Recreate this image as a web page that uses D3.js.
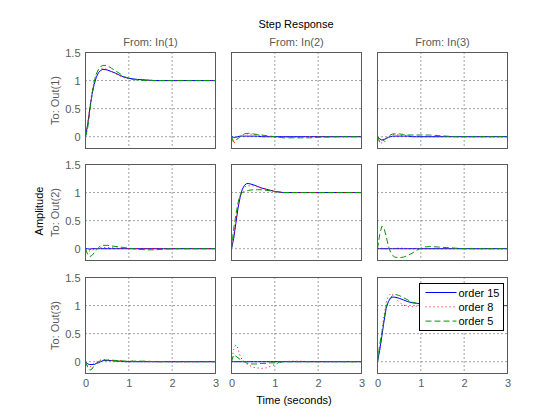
<!DOCTYPE html>
<html>
<head>
<meta charset="utf-8">
<script src="https://cdn.jsdelivr.net/npm/d3@7"></script>
<style>
  body { margin: 0; background: #fff; }
  text { font-family: "Liberation Sans", Arial, sans-serif; }
</style>
</head>
<body>
<svg id="chart" width="560" height="420"></svg>
<script>
// shared time axis (seconds)
var time = [0, 0.05, 0.1, 0.15, 0.2, 0.25, 0.3, 0.35, 0.4, 0.5, 0.6, 0.7, 0.8, 0.9, 1.0, 1.1, 1.2, 1.4, 1.6, 1.8, 2.0, 2.5, 3.0];

var inputs = ["From: In(1)", "From: In(2)", "From: In(3)"];
var outputs = ["To: Out(1)", "To: Out(2)", "To: Out(3)"];
var orders = ["order 15", "order 8", "order 5"];
var xTicks = [0, 1, 2, 3];
var yTicks = [0, 0.5, 1, 1.5];

// Out(1)
var o15_11 = [0, 0.22, 0.5, 0.75, 0.93, 1.06, 1.14, 1.18, 1.2, 1.19, 1.16, 1.13, 1.09, 1.06, 1.04, 1.03, 1.02, 1.01, 1.0, 1.0, 1.0, 1.0, 1.0];
var o8_11  = [0, 0.2, 0.52, 0.8, 1.0, 1.12, 1.19, 1.22, 1.22, 1.2, 1.16, 1.12, 1.08, 1.05, 1.03, 1.02, 1.02, 1.01, 1.0, 1.0, 1.0, 1.0, 1.0];
var o5_11  = [0, 0.15, 0.45, 0.75, 0.98, 1.12, 1.2, 1.25, 1.27, 1.27, 1.22, 1.17, 1.12, 1.07, 1.04, 1.02, 1.01, 1.0, 1.0, 1.0, 1.0, 1.0, 1.0];
var o15_12 = [0, -0.01, -0.01, 0, 0.01, 0.01, 0.01, 0.01, 0.01, 0.01, 0.01, 0, 0, 0, 0, 0, 0, 0, 0, 0, 0, 0, 0];
var o8_12  = [0, -0.12, -0.08, -0.02, 0.02, 0.03, 0.04, 0.05, 0.05, 0.04, 0.03, 0.02, 0.01, 0, -0.01, -0.01, -0.01, -0.01, -0.01, 0, 0, 0, 0];
var o5_12  = [0, -0.09, -0.06, -0.03, 0, 0.03, 0.05, 0.06, 0.06, 0.05, 0.04, 0.03, 0.02, 0.01, 0, -0.01, -0.02, -0.02, -0.02, -0.02, -0.01, 0, 0];
var o15_13 = [0, -0.04, -0.06, -0.05, -0.03, -0.01, 0, 0.01, 0.01, 0.01, 0.01, 0.01, 0, 0, 0, 0, 0, 0, 0, 0, 0, 0, 0];
var o8_13  = [0, -0.11, -0.11, -0.11, -0.05, 0, 0.03, 0.04, 0.04, 0.03, 0.02, 0.01, 0.01, 0, 0, 0, 0, 0, 0, 0, 0, 0, 0];
var o5_13  = [0, -0.09, -0.09, -0.06, -0.03, 0, 0.03, 0.05, 0.05, 0.05, 0.04, 0.03, 0.03, 0.03, 0.03, 0.03, 0.03, 0.02, 0.01, 0, 0, 0, 0];

// Out(2)
var o15_21 = [0, 0, -0.01, 0, 0, 0, 0, 0, 0, 0, 0, 0, 0, 0, 0, 0, 0, 0, 0, 0, 0, 0, 0];
var o8_21  = [0, -0.03, -0.04, -0.03, -0.01, 0, 0.01, 0.02, 0.02, 0.02, 0.02, 0.01, 0.01, 0.01, 0, 0, 0, 0, 0, 0, 0, 0, 0];
var o5_21  = [0, -0.1, -0.14, -0.12, -0.07, -0.02, 0.02, 0.05, 0.06, 0.06, 0.05, 0.04, 0.03, 0.02, 0.01, 0, -0.01, -0.02, -0.02, -0.01, 0, 0, 0];
var o15_22 = [0, 0.18, 0.45, 0.72, 0.92, 1.06, 1.13, 1.16, 1.16, 1.14, 1.11, 1.08, 1.06, 1.04, 1.02, 1.01, 1.0, 1.0, 1.0, 1.0, 1.0, 1.0, 1.0];
var o8_22  = [0, 0.22, 0.5, 0.78, 0.95, 1.05, 1.1, 1.12, 1.12, 1.12, 1.1, 1.08, 1.06, 1.04, 1.02, 1.01, 1.0, 1.0, 1.0, 1.0, 1.0, 1.0, 1.0];
var o5_22  = [0, 0.35, 0.6, 0.82, 0.96, 1.0, 1.02, 1.03, 1.04, 1.05, 1.05, 1.05, 1.04, 1.03, 1.02, 1.01, 1.0, 1.0, 1.0, 1.0, 1.0, 1.0, 1.0];
var o15_23 = [0, 0, 0, 0, 0, 0, 0, 0, 0, 0, 0, 0, 0, 0, 0, 0, 0, 0, 0, 0, 0, 0, 0];
var o8_23  = [0, 0.01, 0.01, 0, 0, 0, 0, 0, 0.01, 0.01, 0.01, 0, 0, 0, 0, 0, 0, 0, 0, 0, 0, 0, 0];
var o5_23  = [0, 0.25, 0.4, 0.37, 0.22, 0.05, -0.06, -0.12, -0.15, -0.16, -0.15, -0.12, -0.08, -0.03, 0.01, 0.03, 0.04, 0.03, 0.02, 0.01, 0, 0, 0];

// Out(3)
var o15_31 = [0, -0.04, -0.05, -0.05, -0.05, -0.03, -0.02, 0, 0.02, 0.02, 0.02, 0.01, 0.01, 0, 0, 0, 0, 0, 0, 0, 0, 0, 0];
var o8_31  = [0, -0.08, -0.1, -0.06, -0.03, -0.01, 0.01, 0.03, 0.04, 0.03, 0.02, 0.02, 0.02, 0.01, 0.01, 0.01, 0, 0, 0, 0, 0, 0, 0];
var o5_31  = [0, -0.1, -0.15, -0.13, -0.07, -0.03, 0, 0.02, 0.03, 0.03, 0.03, 0.02, 0.02, 0.01, 0.01, 0.01, 0.01, 0.01, 0, 0, 0, 0, 0];
var o15_32 = [0, 0, 0, 0, 0, 0, 0, 0, 0, 0, 0, 0, 0, 0, 0, 0, 0, 0, 0, 0, 0, 0, 0];
var o8_32  = [0, 0.22, 0.3, 0.24, 0.1, 0.03, -0.02, -0.04, -0.06, -0.1, -0.11, -0.12, -0.11, -0.08, -0.05, -0.02, 0, 0.01, 0.01, 0, 0, 0, 0];
var o5_32  = [0, 0.12, 0.1, 0.07, 0.04, 0.02, 0, -0.02, -0.04, -0.04, -0.04, -0.03, -0.03, -0.02, -0.02, -0.01, 0, 0, 0, 0, 0, 0, 0];
var o15_33 = [0, 0.2, 0.45, 0.72, 0.95, 1.07, 1.13, 1.15, 1.15, 1.13, 1.1, 1.07, 1.05, 1.04, 1.03, 1.02, 1.01, 1.0, 1.0, 1.0, 1.0, 1.0, 1.0];
var o8_33  = [0, 0.22, 0.5, 0.82, 1.05, 1.17, 1.21, 1.2, 1.15, 1.06, 1.01, 0.98, 0.98, 0.99, 1.0, 1.0, 1.0, 1.0, 1.0, 1.0, 1.0, 1.0, 1.0];
var o5_33  = [0, 0.3, 0.52, 0.75, 0.98, 1.08, 1.14, 1.18, 1.2, 1.18, 1.14, 1.1, 1.06, 1.04, 1.02, 1.01, 1.0, 1.0, 1.0, 1.0, 1.0, 1.0, 1.0];

var responses = [
  [[o15_11, o8_11, o5_11], [o15_12, o8_12, o5_12], [o15_13, o8_13, o5_13]],
  [[o15_21, o8_21, o5_21], [o15_22, o8_22, o5_22], [o15_23, o8_23, o5_23]],
  [[o15_31, o8_31, o5_31], [o15_32, o8_32, o5_32], [o15_33, o8_33, o5_33]]
];

var styles = [
  {color: "#0000ff", dash: null},
  {color: "#ff0000", dash: "1,3"},
  {color: "#009900", dash: "6,3"}
];

var svg = d3.select("#chart");
var colLeft = [85.5, 231.5, 377.5],
    rowTop = [52.5, 164.5, 277.5],
    pw = 130, ph = 96,
    axisCol = "#5a5a5a";

var x = d3.scaleLinear().domain([0, 3]).range([0, pw]);
var y = d3.scaleLinear().domain([-0.21, 1.5]).range([ph, 0]);

var line = d3.line()
    .x(function(d, i) { return x(time[i]); })
    .y(function(d) { return y(d); });

svg.append("defs").append("clipPath").attr("id", "clip")
  .append("rect").attr("width", pw).attr("height", ph);

for (var r = 0; r < 3; r++) {
  for (var c = 0; c < 3; c++) {
    var g = svg.append("g").attr("transform", "translate(" + colLeft[c] + "," + rowTop[r] + ")");

    // grid
    g.append("g").attr("class", "grid")
      .selectAll("line.gx").data([1, 2]).enter().append("line")
        .attr("x1", function(d) { return x(d); }).attr("x2", function(d) { return x(d); })
        .attr("y1", 0).attr("y2", ph)
        .attr("stroke", "#444").attr("stroke-dasharray", "1,3");
    g.append("g").attr("class", "grid")
      .selectAll("line.gy").data([0, 0.5, 1]).enter().append("line")
        .attr("y1", function(d) { return y(d); }).attr("y2", function(d) { return y(d); })
        .attr("x1", 0).attr("x2", pw)
        .attr("stroke", "#444").attr("stroke-dasharray", "1,3");

    // curves
    var cg = g.append("g").attr("clip-path", "url(#clip)");
    responses[r][c].forEach(function(series, k) {
      cg.append("path")
        .datum(series)
        .attr("d", line)
        .attr("fill", "none")
        .attr("stroke", styles[k].color)
        .attr("stroke-width", 1)
        .attr("stroke-dasharray", styles[k].dash);
    });

    // frame
    g.append("rect").attr("width", pw).attr("height", ph)
      .attr("fill", "none").attr("stroke", axisCol).attr("stroke-width", 1);

    if (c == 0) {
      var ya = g.append("g")
        .call(d3.axisLeft(y).tickValues(yTicks).tickSize(0).tickPadding(5).tickFormat(d3.format("")));
      ya.select(".domain").remove();
      ya.selectAll("text").attr("fill", axisCol).style("font-size", "11px");
      g.append("text")
        .attr("transform", "translate(-27," + ph / 2 + ") rotate(-90)")
        .attr("text-anchor", "middle")
        .attr("fill", axisCol)
        .style("font-size", "11px")
        .text(outputs[r]);
    }
    if (r == 2) {
      var xa = g.append("g").attr("transform", "translate(0," + ph + ")")
        .call(d3.axisBottom(x).tickValues(xTicks).tickSize(0).tickPadding(6).tickFormat(d3.format("d")));
      xa.select(".domain").remove();
      xa.selectAll("text").attr("fill", axisCol).style("font-size", "11px");
    }
    if (r == 0) {
      g.append("text")
        .attr("x", pw / 2).attr("y", -7)
        .attr("text-anchor", "middle")
        .attr("fill", axisCol)
        .style("font-size", "11px")
        .text(inputs[c]);
    }
  }
}

// titles
svg.append("text").attr("x", 296).attr("y", 28).attr("text-anchor", "middle")
  .style("font-size", "11px").text("Step Response");
svg.append("text").attr("x", 294).attr("y", 404).attr("text-anchor", "middle")
  .style("font-size", "11px").text("Time (seconds)");
svg.append("text").attr("transform", "translate(43,211) rotate(-90)").attr("text-anchor", "middle")
  .style("font-size", "11px").text("Amplitude");

// legend
var lg = svg.append("g").attr("transform", "translate(419.5,283.5)");
lg.append("rect").attr("width", 84).attr("height", 47)
  .attr("fill", "#fff").attr("stroke", "#000");
orders.forEach(function(name, k) {
  var yy = 9 + k * 14.3;
  lg.append("line").attr("x1", 6).attr("x2", 37).attr("y1", yy).attr("y2", yy)
    .attr("stroke", styles[k].color).attr("stroke-dasharray", styles[k].dash);
  lg.append("text").attr("x", 39).attr("y", yy + 4)
    .style("font-size", "11px").text(name);
});
</script>
</body>
</html>
